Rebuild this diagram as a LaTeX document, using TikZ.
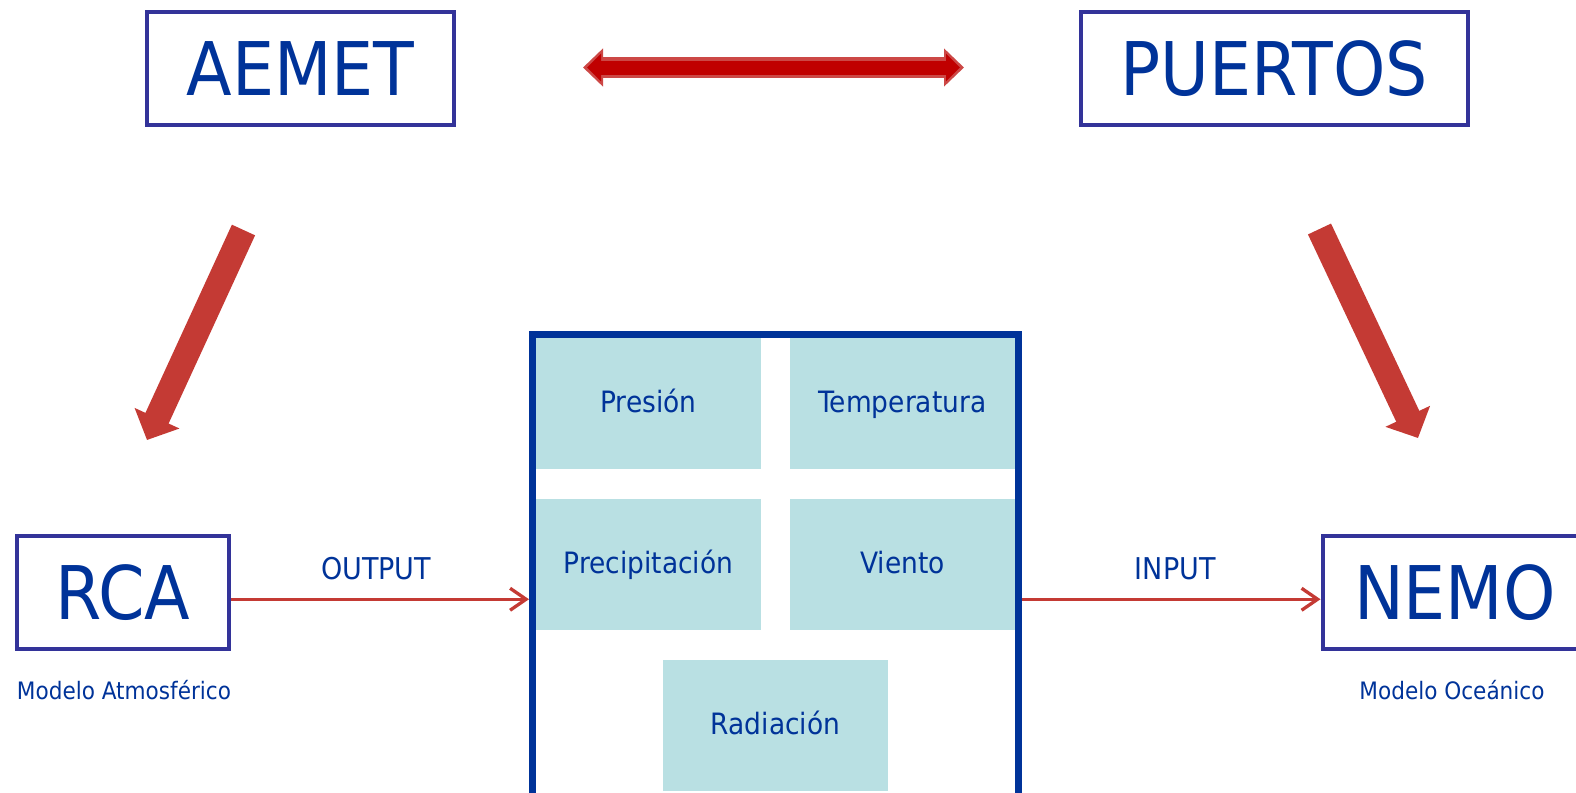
\documentclass[tikz,border=0pt]{standalone}
\usepackage{fontspec}
\setmainfont{DejaVu Sans Condensed}
\usetikzlibrary{arrows.meta,positioning}
\definecolor{boxcol}{RGB}{51,51,153}
\definecolor{txtblue}{RGB}{0,51,153}
\definecolor{cellcol}{RGB}{185,224,227}
\definecolor{flowred}{RGB}{196,58,52}
\definecolor{dblred}{RGB}{192,0,0}
\definecolor{dbledge}{RGB}{204,72,70}

\begin{document}
\begin{tikzpicture}[x=0.5pt, y=-0.5pt,
  source/.style={rectangle, draw=boxcol, line width=2pt, inner sep=0pt,
                 minimum height=56.5pt, text=txtblue,
                 font=\fontsize{37}{40}\selectfont},
  cell/.style={rectangle, fill=cellcol, inner sep=0pt, text=txtblue,
               minimum width=112.5pt, minimum height=65.5pt,
               text height=0.93em, text depth=0pt,
               font=\fontsize{14.7}{16}\selectfont},
  caption/.style={text=txtblue, inner sep=0pt, text height=0.73em,
                  text depth=0pt, font=\fontsize{12}{14}\selectfont},
  flow/.style={-{Straight Barb[length=8pt, width=11pt]}, flowred,
               line width=1.65pt},
  flowlbl/.style={text=txtblue, inner sep=0pt, text height=0.73em,
                  text depth=0pt, font=\fontsize{15}{17}\selectfont},
  feed/.style={-{Triangle[width=24pt, length=12pt]}, flowred,
               line width=12.75pt},
]
\clip (0,0) rectangle (1576,793);

% Nodes
\node[source, minimum width=153.5pt]  (aemet)   at (300.5,68.4)   {AEMET};
\node[source, minimum width=193.75pt] (puertos) at (1274.25,68.75) {PUERTOS};
\node[source, minimum width=106.25pt] (rca)     at (122.75,592.75) {RCA};
\node[source, minimum width=132.5pt]  (nemo)    at (1455,592.75)   {NEMO};

\node[caption] (rcalbl)  at (124,692)  {Modelo Atmosférico};
\node[caption] (nemolbl) at (1452,692) {Modelo Oceánico};

% Parameter panel
\node[rectangle, draw=txtblue, line width=3.5pt, inner sep=0pt,
      minimum width=243pt, minimum height=283pt] (panel) at (775.5,617) {};
\node[cell] (pres)   at (648.5,403.5) {Presión};
\node[cell] (temp)   at (902.5,403.5) {Temperatura};
\node[cell] (precip) at (648.5,564.5) {Precipitación};
\node[cell] (wind)   at (902.5,564.5) {Viento};
\node[cell] (rad)    at (775.5,725.5) {Radiación};

% Exchange between providers
\coordinate (xchL) at (583,67.5);
\coordinate (xchR) at (964,67.5);
\draw[{Triangle[width=18.5pt, length=10pt]}-{Triangle[width=18.5pt, length=10pt]},
      dbledge, line width=10.25pt] (xchL) -- (xchR);
\draw[{Triangle[width=13.5pt, length=7pt]}-{Triangle[width=13.5pt, length=7pt]},
      dblred, line width=7pt, shorten <=2pt, shorten >=2pt] (xchL) -- (xchR);

% Data feeds into the models
\coordinate (feedA1) at (243.5,230);
\coordinate (feedA2) at (147,440);
\coordinate (feedP1) at (1319.5,229);
\coordinate (feedP2) at (1418,438);
\draw[feed] (feedA1) -- (feedA2);
\draw[feed] (feedP1) -- (feedP2);

% Output / input arrows
\path ([yshift=-3.25pt]rca.east) coordinate (outA);
\path ([yshift=-3.25pt]nemo.west) coordinate (inA);
\draw[flow] (outA) -- node[flowlbl, above=9pt, xshift=-2pt]{OUTPUT} (outA -| panel.west);
\draw[flow] (inA -| panel.east) -- node[flowlbl, above=9pt, xshift=2pt]{INPUT} (inA);

\end{tikzpicture}
\end{document}
